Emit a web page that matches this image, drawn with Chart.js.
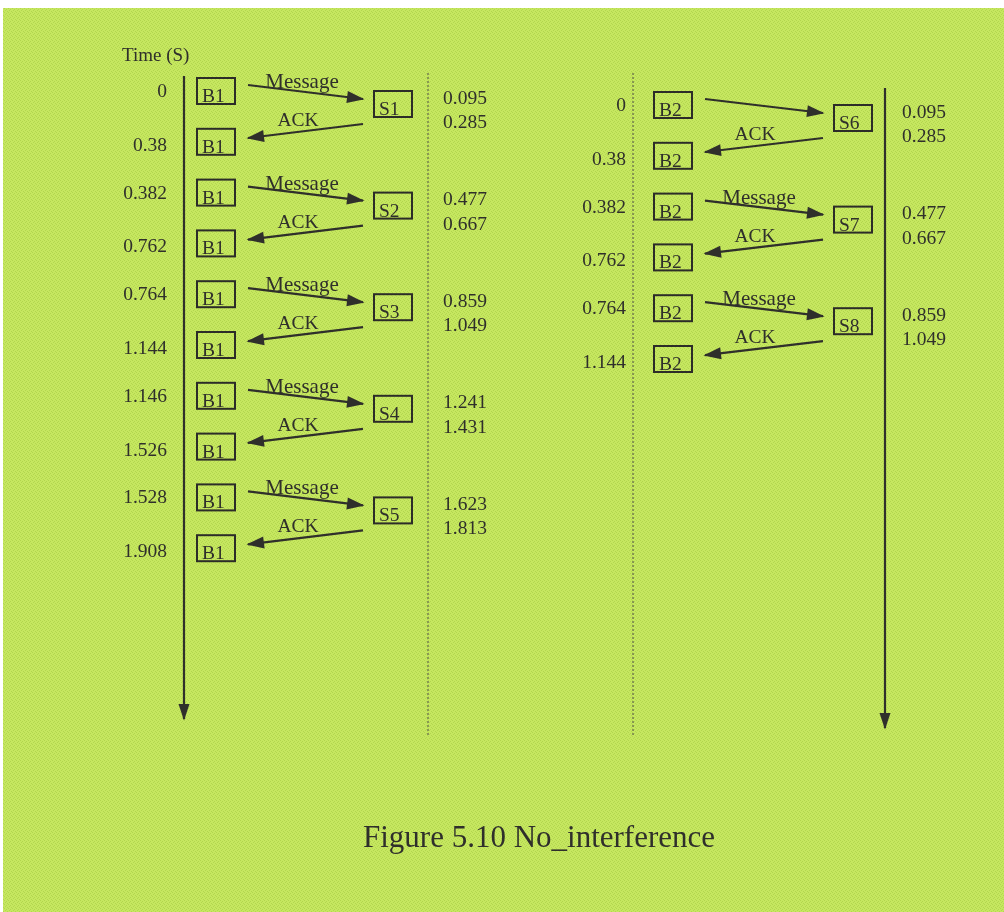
<!DOCTYPE html>
<html>
<head>
<meta charset="utf-8">
<title>Figure 5.10 No_interference</title>
<script src="https://cdn.jsdelivr.net/npm/chart.js@4.4.1/dist/chart.umd.min.js"></script>
<style>
    html, body { margin: 0; padding: 0; background: #fff; }
    #wrap { position: relative; width: 1004px; height: 912px; }
</style>
</head>
<body>
<div id="wrap"><canvas id="diagram"></canvas></div>
<script>
// Left side: B1 exchanges with S1..S5
const leftServers = ['S1', 'S2', 'S3', 'S4', 'S5'];
const leftSendTimes = [0, 0.382, 0.764, 1.146, 1.528];
const leftArriveTimes = [0.095, 0.477, 0.859, 1.241, 1.623];
const leftReplyTimes = [0.285, 0.667, 1.049, 1.431, 1.813];
const leftAckTimes = [0.38, 0.762, 1.144, 1.526, 1.908];
const leftMessageLabels = ['Message', 'Message', 'Message', 'Message', 'Message'];

// Right side: B2 exchanges with S6..S8
const rightServers = ['S6', 'S7', 'S8'];
const rightSendTimes = [0, 0.382, 0.764];
const rightArriveTimes = [0.095, 0.477, 0.859];
const rightReplyTimes = [0.285, 0.667, 1.049];
const rightAckTimes = [0.38, 0.762, 1.144];
const rightMessageLabels = ['', 'Message', 'Message'];

const axisTitle = 'Time (S)';
const ackText = 'ACK';
const caption = 'Figure 5.10 No_interference';

// ---- layout (pixels / rows) ----
const W = 1004, H = 912;
const ROW_PX = 50.8;          // one box step
const FIRST_ROW_PX = 91;      // centre of the first broker box
const Y_MIN = -FIRST_ROW_PX / ROW_PX;
const Y_MAX = Y_MIN + H / ROW_PX;
const toRow = px => (px - FIRST_ROW_PX) / ROW_PX;
const px = v => v / ROW_PX;

const INK = '#2f2f2b';
const FONT = '"Liberation Serif", "Times New Roman", serif';

const panels = [
    {
        broker: 'B1', servers: leftServers, send: leftSendTimes, arrive: leftArriveTimes,
        reply: leftReplyTimes, ack: leftAckTimes, msg: leftMessageLabels,
        rowShift: 0, brokerX: 197, serverX: 374, timeRightX: 167, timeLeftX: 443,
        solidX: 184, solidTop: toRow(76), solidEnd: toRow(719), dotX: 428
    },
    {
        broker: 'B2', servers: rightServers, send: rightSendTimes, arrive: rightArriveTimes,
        reply: rightReplyTimes, ack: rightAckTimes, msg: rightMessageLabels,
        rowShift: px(14), brokerX: 654, serverX: 834, timeRightX: 626, timeLeftX: 902,
        solidX: 885, solidTop: toRow(88), solidEnd: toRow(728), dotX: 633
    }
];
const DOT_TOP = toRow(73), DOT_END = toRow(735);

const BOX_W = 38, BOX_H = 26;
const SERVER_ROW = px(13);
const MSG_FROM = px(-6), MSG_TO = px(8);
const ACK_FROM = px(33), ACK_TO = px(47);

function buildDatasets() {
    const sets = [];
    panels.forEach(p => {
        sets.push({
            data: [{ x: p.dotX, y: DOT_TOP }, { x: p.dotX, y: DOT_END }],
            borderColor: '#4d4d45', borderWidth: 1, borderDash: [2, 2]
        });
        sets.push({
            data: [{ x: p.solidX, y: p.solidTop }, { x: p.solidX, y: p.solidEnd }],
            borderColor: INK, borderWidth: 2.2, arrow: { len: 15, half: 5.5 }
        });
        p.servers.forEach((s, i) => {
            const r = 2 * i + p.rowShift;
            sets.push({
                data: [{ x: p.brokerX + 51, y: r + MSG_FROM }, { x: p.serverX - 11, y: r + MSG_TO }],
                borderColor: INK, borderWidth: 2.2, arrow: { len: 16, half: 6 }
            });
            sets.push({
                data: [{ x: p.serverX - 11, y: r + ACK_FROM }, { x: p.brokerX + 51, y: r + ACK_TO }],
                borderColor: INK, borderWidth: 2.2, arrow: { len: 16, half: 6 }
            });
        });
    });
    return sets.map(d => Object.assign({ pointRadius: 0, fill: false, tension: 0, clip: false }, d));
}

function makeTexture() {
    const c = document.createElement('canvas');
    c.width = 4; c.height = 4;
    const g = c.getContext('2d');
    g.fillStyle = '#c6e760';
    g.fillRect(0, 0, 4, 4);
    g.fillStyle = '#b2d64e';
    [[0, 0], [2, 1], [1, 2], [3, 3]].forEach(([x, y]) => g.fillRect(x, y, 1, 1));
    return c;
}

const backdrop = {
    id: 'backdrop',
    beforeDraw(chart) {
        const ctx = chart.ctx;
        ctx.save();
        ctx.fillStyle = '#ffffff';
        ctx.fillRect(0, 0, chart.width, chart.height);
        ctx.fillStyle = ctx.createPattern(makeTexture(), 'repeat');
        ctx.fillRect(3, 8, chart.width - 3, chart.height - 8);
        ctx.restore();
    }
};

function drawHead(ctx, a, b, len, half) {
    const ang = Math.atan2(b.y - a.y, b.x - a.x);
    ctx.save();
    ctx.translate(b.x, b.y);
    ctx.rotate(ang);
    ctx.beginPath();
    ctx.moveTo(1.5, 0);
    ctx.lineTo(-len, -half);
    ctx.lineTo(-len, half);
    ctx.closePath();
    ctx.fill();
    ctx.restore();
}

function drawBox(ctx, left, cy, label) {
    const top = cy - BOX_H / 2;
    ctx.fillStyle = INK;
    ctx.textAlign = 'left';
    ctx.fillText(label, left + 5, top + BOX_H - 2);
    ctx.lineWidth = 2;
    ctx.strokeStyle = '#2c2c28';
    ctx.strokeRect(left, top, BOX_W, BOX_H);
}

const sequence = {
    id: 'sequence',
    afterDatasetsDraw(chart) {
        const ctx = chart.ctx;
        const yS = chart.scales.y, xS = chart.scales.x;
        ctx.save();
        ctx.fillStyle = INK;

        // arrow heads on the data lines
        chart.data.datasets.forEach((ds, di) => {
            if (!ds.arrow) return;
            const pts = chart.getDatasetMeta(di).data;
            drawHead(ctx, pts[0], pts[pts.length - 1], ds.arrow.len, ds.arrow.half);
        });

        ctx.font = '19px ' + FONT;
        ctx.textBaseline = 'alphabetic';
        ctx.fillText(axisTitle, 122, 61);

        panels.forEach(p => {
            const bx = xS.getPixelForValue(p.brokerX);
            const sx = xS.getPixelForValue(p.serverX);
            p.servers.forEach((s, i) => {
                const sendY = yS.getPixelForValue(2 * i + p.rowShift);
                const ackY = yS.getPixelForValue(2 * i + 1 + p.rowShift);
                const srvY = yS.getPixelForValue(2 * i + p.rowShift + SERVER_ROW);

                ctx.font = '19.5px ' + FONT;
                drawBox(ctx, bx, sendY, p.broker);
                drawBox(ctx, bx, ackY, p.broker);
                drawBox(ctx, sx, srvY, s);

                ctx.fillStyle = INK;
                ctx.textAlign = 'right';
                ctx.fillText(String(p.send[i]), p.timeRightX, sendY + 6);
                ctx.fillText(String(p.ack[i]), p.timeRightX, ackY + 9);

                ctx.textAlign = 'left';
                ctx.fillText(String(p.arrive[i]), p.timeLeftX, sendY + 12.5);
                ctx.fillText(String(p.reply[i]), p.timeLeftX, sendY + 37);

                ctx.textAlign = 'center';
                ctx.fillText(ackText, bx + 101, sendY + 35);
                ctx.font = '21px ' + FONT;
                if (p.msg[i]) ctx.fillText(p.msg[i], bx + 105, sendY - 3);
            });
        });

        ctx.font = '31px ' + FONT;
        ctx.textAlign = 'center';
        ctx.fillStyle = INK;
        ctx.fillText(caption, 539, 847);
        ctx.restore();
    }
};

new Chart(document.getElementById('diagram'), {
    type: 'line',
    data: { datasets: buildDatasets() },
    options: {
        responsive: true,
        maintainAspectRatio: false,
        animation: false,
        events: [],
        layout: { padding: 0 },
        plugins: { legend: { display: false }, tooltip: { enabled: false }, title: { display: false } },
        scales: {
            x: { type: 'linear', display: false, min: 0, max: W },
            y: { type: 'linear', display: false, reverse: true, min: Y_MIN, max: Y_MAX }
        }
    },
    plugins: [backdrop, sequence]
});
</script>
</body>
</html>
